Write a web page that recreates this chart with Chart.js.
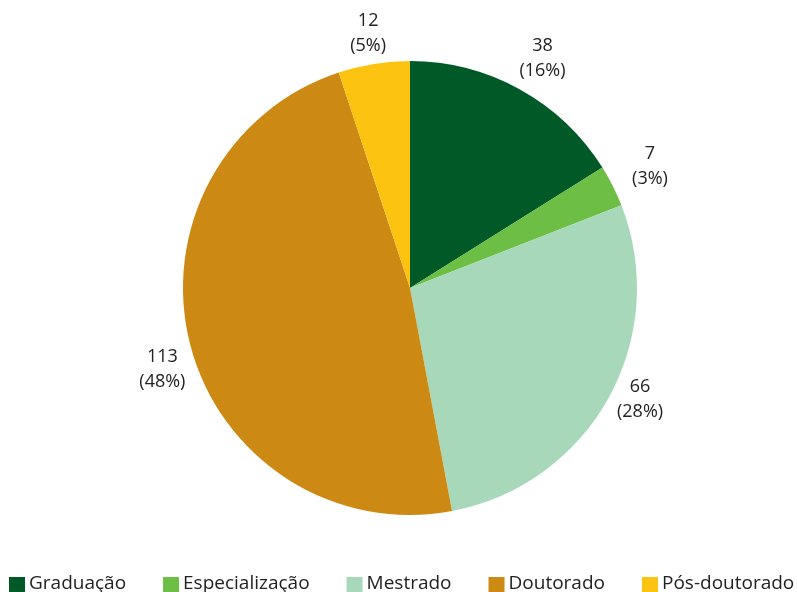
<!DOCTYPE html>
<html lang="pt">
<head>
  <meta charset="UTF-8" />
  <title>Formação</title>
  <script src="https://cdn.jsdelivr.net/npm/chart.js"></script>
  <style>
    html, body { margin: 0; padding: 0; background: #fff; }
    #wrap { width: 797px; height: 592px; position: relative; }
  </style>
</head>
<body>
  <div id="wrap"><canvas id="pie" width="797" height="592"></canvas></div>
  <script>
    const categories = ['Graduação', 'Especialização', 'Mestrado', 'Doutorado', 'Pós-doutorado'];
    const counts = [38, 7, 66, 113, 12];
    const percents = [16, 3, 28, 48, 5];
    const colors = ['#005a27', '#6dbe45', '#a8d8ba', '#cc8913', '#fdc311'];

    const FONT = '"Open Sans", Arial, sans-serif';

    // labels outside each slice: value + (pct%)
    // small hand nudges, the original labels are not strictly radial
    const labelShift = [[5, 0], [5, -4], [0, -17], [7, 15], [0, 5]];

    const outsideLabels = {
      id: 'outsideLabels',
      afterDatasetsDraw(chart) {
        const ctx = chart.ctx;
        const meta = chart.getDatasetMeta(0);
        ctx.save();
        ctx.font = '18px ' + FONT;
        ctx.fillStyle = '#222';
        ctx.textAlign = 'center';
        ctx.textBaseline = 'middle';
        meta.data.forEach((arc, i) => {
          const mid = (arc.startAngle + arc.endAngle) / 2;
          const r = arc.outerRadius + 36;
          const x = arc.x + Math.cos(mid) * r + labelShift[i][0];
          const y = arc.y + Math.sin(mid) * r + labelShift[i][1];
          ctx.fillText(String(counts[i]), x, y - 12);
          ctx.fillText('(' + percents[i] + '%)', x, y + 13);
        });
        ctx.restore();
      }
    };

    // legend row along the bottom
    const bottomLegend = {
      id: 'bottomLegend',
      afterDraw(chart) {
        const ctx = chart.ctx;
        ctx.save();
        ctx.font = '19px ' + FONT;
        ctx.textBaseline = 'middle';
        ctx.textAlign = 'left';
        let x = 9;
        const y = 584;
        categories.forEach((c, i) => {
          ctx.fillStyle = colors[i];
          ctx.fillRect(x, y - 7, 16, 16);
          ctx.fillStyle = '#222';
          ctx.fillText(c, x + 20, y);
          x += 20 + ctx.measureText(c).width + 37;
        });
        ctx.restore();
      }
    };

    new Chart(document.getElementById('pie'), {
      type: 'pie',
      data: {
        labels: categories,
        datasets: [{
          data: counts,
          backgroundColor: colors,
          borderWidth: 0
        }]
      },
      options: {
        responsive: false,
        animation: false,
        layout: { padding: { top: 61, bottom: 77, left: 23, right: 0 } },
        plugins: {
          legend: { display: false },
          tooltip: { enabled: false }
        }
      },
      plugins: [outsideLabels, bottomLegend]
    });
  </script>
</body>
</html>
